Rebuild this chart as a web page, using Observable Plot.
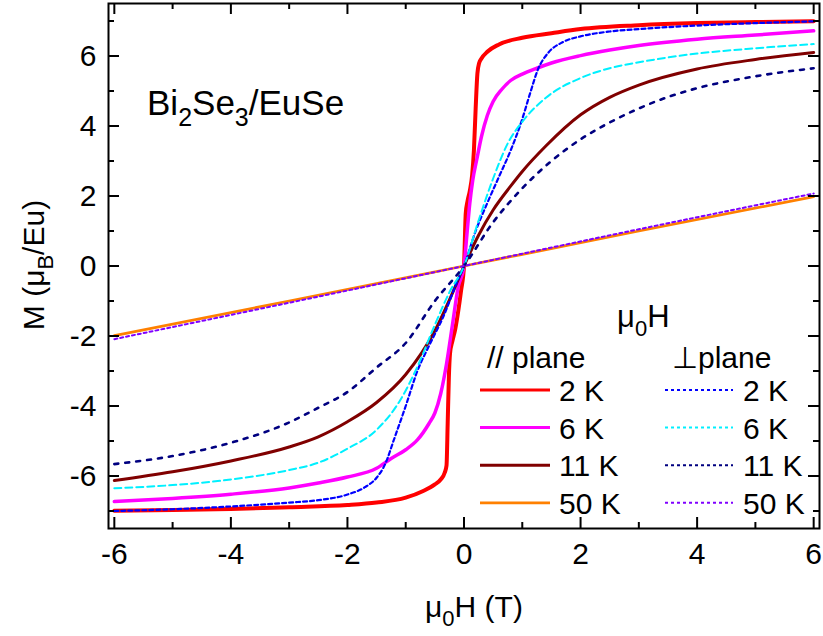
<!DOCTYPE html>
<html>
<head>
<meta charset="utf-8">
<script src="https://cdn.jsdelivr.net/npm/d3@7"></script>
<script src="https://cdn.jsdelivr.net/npm/@observablehq/plot@0.6"></script>
<style>
  body { margin: 0; background: #fff; }
  svg { display: block; }
</style>
</head>
<body>
<div id="chart"></div>
<script>
// Magnetisation M (μB/Eu) versus applied field μ0H (T), pairs of [H, M]

// field in the film plane (//)
const par2K = [[-6,-6.99],[-5,-6.97],[-4,-6.94],[-3,-6.89],[-2,-6.83],[-1.5,-6.76],[-1,-6.62],[-0.7,-6.43],[-0.5,-6.24],[-0.4,-6.1],[-0.33,-5.9],[-0.3,-5.7],[-0.28,-4.5],[-0.26,-3.2],[-0.24,-2.5],[-0.2,-2.15],[-0.15,-1.8],[-0.1,-1.3],[-0.05,-0.7],[0,0],[0.03,1.5],[0.06,1.85],[0.1,2.15],[0.14,2.6],[0.17,3.3],[0.2,4.5],[0.23,5.5],[0.26,5.8],[0.3,5.93],[0.4,6.12],[0.6,6.33],[1,6.52],[1.5,6.65],[2,6.77],[3,6.88],[4,6.94],[5,6.97],[6,6.99]];
const par6K = [[-6,-6.73],[-5,-6.64],[-4,-6.52],[-3,-6.34],[-2.5,-6.2],[-2,-6.03],[-1.5,-5.78],[-1.25,-5.5],[-1,-5.25],[-0.8,-4.97],[-0.6,-4.5],[-0.5,-4.2],[-0.4,-3.65],[-0.3,-2.8],[-0.2,-1.7],[-0.1,-0.6],[0,0],[0.05,0.9],[0.1,1.8],[0.15,2.45],[0.22,3.05],[0.3,3.7],[0.4,4.3],[0.5,4.7],[0.65,5.05],[0.8,5.3],[1,5.48],[1.25,5.65],[1.5,5.8],[2,6.01],[2.5,6.17],[3,6.3],[4,6.48],[5,6.6],[6,6.72]];
const par11K = [[-6,-6.13],[-5,-5.88],[-4,-5.57],[-3,-5.17],[-2.5,-4.88],[-2,-4.45],[-1.5,-3.9],[-1,-3.1],[-0.5,-1.85],[-0.2,-0.78],[0,0],[0.25,0.88],[0.5,1.6],[0.8,2.28],[1,2.7],[1.4,3.42],[2,4.32],[2.5,4.82],[3,5.17],[4,5.63],[5,5.9],[6,6.1]];
const par50K = [[-6,-1.99],[-3,-1.0],[0,0],[3,1.0],[6,1.98]];

// field perpendicular to the film plane (⊥)
const perp2K = [[-6,-7.0],[-5,-6.95],[-4,-6.87],[-3,-6.76],[-2.5,-6.69],[-2,-6.53],[-1.7,-6.32],[-1.5,-6.05],[-1.35,-5.65],[-1.2,-4.95],[-1,-4.0],[-0.8,-3.0],[-0.6,-2.28],[-0.35,-1.43],[-0.13,-0.5],[0,0],[0.2,1.0],[0.4,1.8],[0.6,2.55],[0.8,3.3],[1,4.2],[1.13,4.91],[1.27,5.62],[1.45,6.1],[1.7,6.4],[2,6.56],[2.5,6.7],[3,6.77],[4,6.87],[5,6.94],[6,6.99]];
const perp6K = [[-6,-6.35],[-5,-6.26],[-4,-6.1],[-3,-5.83],[-2.5,-5.62],[-2,-5.22],[-1.5,-4.68],[-1.1,-3.85],[-0.8,-2.88],[-0.5,-1.68],[-0.25,-0.75],[0,0],[0.25,1.3],[0.5,2.5],[0.75,3.5],[1,4.12],[1.4,4.8],[2,5.37],[2.5,5.65],[3,5.82],[4,6.07],[5,6.22],[6,6.34]];
const perp11K = [[-6,-5.66],[-5,-5.43],[-4,-5.05],[-3,-4.47],[-2.5,-4.05],[-2,-3.6],[-1.5,-2.9],[-1,-2.2],[-0.5,-1.0],[0,0],[0.5,1.25],[1,2.22],[1.5,3.0],[2,3.62],[2.5,4.1],[3,4.5],[3.5,4.83],[4,5.08],[5,5.42],[6,5.65]];
const perp50K = [[-6,-2.09],[-3,-1.05],[0,0],[3,1.05],[6,2.07]];

const temperatures = ["2 K", "6 K", "11 K", "50 K"];
const xTicks = [-6, -4, -2, 0, 2, 4, 6];
const xMinor = [-5, -3, -1, 1, 3, 5];
const yTicks = [-6, -4, -2, 0, 2, 4, 6];
const yMinor = [-7, -5, -3, -1, 1, 3, 5, 7];

// line styles, one per temperature
const parSeries = [par2K, par6K, par11K, par50K];
const perpSeries = [perp2K, perp6K, perp11K, perp50K];
const parColors = ["#ff0000", "#ff00ff", "#800000", "#ff8000"];
const parWidths = [4, 3.5, 3, 2.8];
const perpColors = ["#0000ff", "#00f0ff", "#000080", "#8000ff"];
const perpWidths = [2.2, 2, 2.6, 2];
const perpDash = ["4,3", "7,4", "4,7", "3,3"];
const perpLegendDash = ["3,3", "3,3", "3,3", "3,3"];

const W = 823, H = 636;
const M = {top: 3, right: 4, bottom: 108, left: 108};
const innerW = W - M.left - M.right;
const innerH = H - M.top - M.bottom;
const FONT = "'Liberation Sans', Arial, Helvetica, sans-serif";
const major = 11, minor = 6;
const FS = 30;

const lineMarks = [];
parSeries.forEach((s, i) => lineMarks.push(Plot.line(s, {
  x: d => d[0], y: d => d[1], stroke: parColors[i], strokeWidth: parWidths[i], curve: "monotone-x"
})));
perpSeries.forEach((s, i) => lineMarks.push(Plot.line(s, {
  x: d => d[0], y: d => d[1], stroke: perpColors[i], strokeWidth: perpWidths[i],
  strokeDasharray: perpDash[i], curve: "monotone-x"
})));

const tickStyle = {stroke: "#000", strokeWidth: 2};
const plain = d => String(d);

const chart = Plot.plot({
  width: W, height: H,
  marginTop: M.top, marginRight: M.right, marginBottom: M.bottom, marginLeft: M.left,
  style: {fontFamily: FONT, background: "#fff", overflow: "visible"},
  x: {domain: [-6.1, 6.1]},
  y: {domain: [-7.5, 7.5]},
  marks: [
    ...lineMarks,
    // inward ticks on all four sides
    Plot.ruleX(xTicks, {x: d => d, insetTop: innerH - major, ...tickStyle}),
    Plot.ruleX(xMinor, {x: d => d, insetTop: innerH - minor, ...tickStyle}),
    Plot.ruleX(xTicks, {x: d => d, insetBottom: innerH - major, ...tickStyle}),
    Plot.ruleX(xMinor, {x: d => d, insetBottom: innerH - minor, ...tickStyle}),
    Plot.ruleY(yTicks, {y: d => d, insetRight: innerW - major, ...tickStyle}),
    Plot.ruleY(yMinor, {y: d => d, insetRight: innerW - minor, ...tickStyle}),
    Plot.ruleY(yTicks, {y: d => d, insetLeft: innerW - major, ...tickStyle}),
    Plot.ruleY(yMinor, {y: d => d, insetLeft: innerW - minor, ...tickStyle}),
    Plot.frame({stroke: "#000", strokeWidth: 2}),
    Plot.axisX(xTicks, {tickSize: 0, tickPadding: 14, fontSize: FS, label: null, fill: "#000", tickFormat: plain}),
    Plot.axisY(yTicks, {tickSize: 0, tickPadding: 12, fontSize: FS, label: null, fill: "#000", tickFormat: plain})
  ]
});

document.getElementById("chart").appendChild(chart);

const svg = d3.select(chart);

// text with subscripts: parts are [string, isSubscript]
function richText(parent, parts, size, anchor = "start") {
  const t = parent.append("text")
    .attr("font-family", FONT).attr("font-size", size).attr("fill", "#000")
    .attr("text-anchor", anchor);
  let shift = 0;
  for (const [s, sub] of parts) {
    const target = sub ? Math.round(size * 0.3) : 0;
    t.append("tspan")
      .attr("dy", target - shift)
      .attr("font-size", sub ? Math.round(size * 0.72) : size)
      .text(s);
    shift = target;
  }
  return t;
}

function plainText(parent, s, x, y, size) {
  return parent.append("text").attr("x", x).attr("y", y)
    .attr("font-family", FONT).attr("font-size", size).attr("fill", "#000")
    .attr("text-anchor", "start").text(s);
}

// axis titles
richText(svg, [["μ", false], ["0", true], ["H (T)", false]], 30, "middle")
  .attr("x", 474).attr("y", 617);
richText(svg.append("g").attr("transform", "translate(44,265) rotate(-90)"),
  [["M (μ", false], ["B", true], ["/Eu)", false]], 30, "middle")
  .attr("x", 0).attr("y", 0);

// sample label
richText(svg, [["Bi", false], ["2", true], ["Se", false], ["3", true], ["/EuSe", false]], 35)
  .attr("x", 147).attr("y", 115);

// legend
const lg = svg.append("g");
richText(lg, [["μ", false], ["0", true], ["H", false]], 31).attr("x", 617).attr("y", 327);
plainText(lg, "// plane", 487, 368, FS);
plainText(lg, "⊥", 672, 368, FS);
plainText(lg, "plane", 698, 368, FS);
const rowY = i => 390 + i * 37.6;
temperatures.forEach((t, i) => {
  const y = rowY(i);
  lg.append("line").attr("x1", 480).attr("x2", 550).attr("y1", y).attr("y2", y)
    .attr("stroke", parColors[i]).attr("stroke-width", Math.min(parWidths[i], 3));
  plainText(lg, t, 559, y + 11, FS);
  lg.append("line").attr("x1", 665).attr("x2", 733).attr("y1", y).attr("y2", y)
    .attr("stroke", perpColors[i]).attr("stroke-width", 2).attr("stroke-dasharray", perpLegendDash[i]);
  plainText(lg, t, 743, y + 11, FS);
});
</script>
</body>
</html>
